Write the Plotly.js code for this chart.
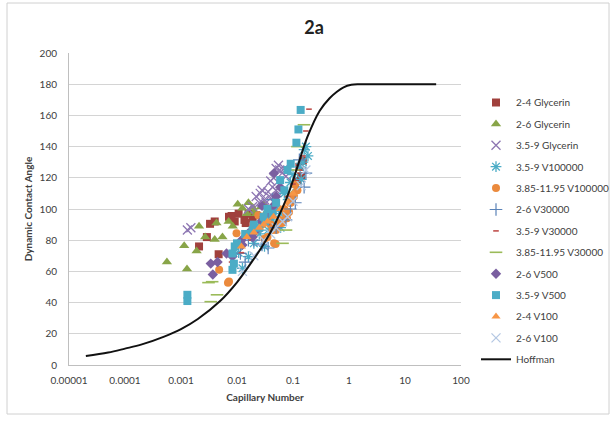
<!DOCTYPE html>
<html><head><meta charset="utf-8">
<script src="https://cdn.plot.ly/plotly-3.0.1.min.js"></script>
<style>html,body{margin:0;padding:0;background:#fff}#chart{width:615px;height:421px}</style>
</head><body><div id="chart"></div>
<script>
const seriesNames = ["2-4 Glycerin","2-6 Glycerin","3.5-9 Glycerin","3.5-9 V100000","3.85-11.95 V100000","2-6 V30000","3.5-9 V30000","3.85-11.95 V30000","2-6 V500","3.5-9 V500","2-4 V100","2-6 V100"];

const glyc24X = [0.0021,0.0029,0.0033,0.0040,0.0047,0.0080,0.0091,0.0107,0.0136,0.0161,0.019,0.022,0.0143,0.0072,0.12,0.13,0.14,0.15];
const glyc24Y = [76,82,90.5,92,71,95.5,92,97,93,97,94,96,91,95,118,127,121,131];
const glyc26X = [0.00056,0.00114,0.00128,0.0021,0.0019,0.0027,0.0040,0.0055,0.0043,0.0071,0.0103,0.0084,0.0125,0.016,0.019,0.022,0.015,0.027,0.1,0.03,0.035,0.02];
const glyc26Y = [66,76.5,61.5,89,73,82,80.5,82,91,92,103,89,100.5,104,101,97,97,101.5,110,103,99,98];
const glyc359X = [0.0013,0.0015,0.043,0.05,0.055,0.036,0.031,0.026,0.064,0.075,0.046,0.022,0.019,0.016,0.028,0.04,0.058,0.033,0.045,0.05,0.07,0.025,0.038];
const glyc359Y = [86.5,88,114,126,128,111,106,110,123,121,104,108,101.5,100,112,118,125,104,120,112,126,104,108];
const v100k359X = [0.158,0.185,0.134,0.14,0.114,0.082,0.059,0.043,0.036,0.031,0.016,0.0125,0.0107,0.06,0.17,0.05,0.07,0.09,0.1,0.15,0.025,0.02];
const v100k359Y = [138,134,127,119,114,106,97,93,86.5,76,69.5,62,72,88,140,100,110,117,122,130,84,78];
const v100k385X = [0.0069,0.0072,0.0048,0.031,0.046,0.049,0.035,0.043,0.059,0.075,0.089,0.104,0.11,0.036,0.05,0.064,0.078,0.024,0.019,0.0098,0.06,0.091,0.07,0.085,0.095,0.12,0.028,0.04];
const v100k385Y = [52.8,53.5,61,81,78,77.5,82,86.5,93,97,104,108,115.5,95,86.5,91,94,96,84,84.5,91,104,100,98,108,112,90,90];
const v30k26X = [0.0115,0.036,0.028,0.075,0.11,0.158,0.17,0.13,0.016,0.020,0.043,0.014,0.05,0.09];
const v30k26Y = [71.5,75,77,93,104,114,123,131.5,80,80,106,66,88,100];
const v30k359X = [0.193,0.17,0.15,0.13,0.1,0.08,0.06,0.045,0.035,0.025,0.018,0.012,0.008];
const v30k359Y = [164,150,134,125,116,108,100,95,90,86,80,72,66];
const v30k385X = [0.0031,0.0044,0.0034,0.0036,0.157,0.075,0.065,0.12,0.1];
const v30k385Y = [52.8,45,40.6,53.4,154,86.5,78,140,125];
const v500_26X = [0.0034,0.0037,0.0125,0.016,0.019,0.022,0.031,0.036,0.043,0.059,0.046,0.0083,0.0065,0.0045,0.027,0.028,0.05,0.012];
const v500_26Y = [65,58,77,84.5,82,86.5,95,97,101.5,114,123,69.5,71.5,66,92,102,108,80];
const v500_359X = [0.0013,0.0013,0.0083,0.0091,0.0088,0.019,0.043,0.059,0.091,0.115,0.125,0.137,0.0083,0.01,0.025,0.032,0.02,0.03,0.05,0.07,0.08,0.014,0.035];
const v500_359Y = [45,41,71.5,76,65,86.5,97,118.5,129,142.5,151,163.5,61,78,88,92,90,95,104,112,125,84,100];
const v100_24X = [0.012,0.02,0.03,0.045,0.06,0.08,0.1,0.025,0.035,0.015];
const v100_24Y = [76,85,90,95,100,104,110,88,92,82];
const v100_26X = [0.0125,0.02,0.03,0.05,0.08,0.1,0.14,0.17,0.04,0.065];
const v100_26Y = [60,70,80,88,95,105,115,125,84,92];

const hoffmanX = [0.00002,0.00005,0.0001,0.0002,0.0005,0.001,0.002,0.005,0.01,0.02,0.03,0.05,0.08,0.12,0.18,0.3,0.45,0.6,0.8,1.1,1.5,2.5,10,36];
const hoffmanY = [5.8,8,10.5,13.2,18.2,23,29.5,41,53,68,77.5,92,108.5,127,146,163,171,175,178,179.6,180,180,180,180];

const xTickVals = [0.00001,0.0001,0.001,0.01,0.1,1,10,100];
const xTickText = ["0.00001","0.0001","0.001","0.01","0.1","1","10","100"];

const FONT = "Lato, 'Liberation Sans', sans-serif";
function sc(i, xs, ys, symbol, color, size, lw) {
  const open = symbol.indexOf('open') >= 0;
  const m = {symbol: symbol, size: size, color: color};
  if (open) m.line = {color: color, width: lw || 1.3};
  else m.line = {width: 0};
  return {type:'scatter', mode:'markers', name: seriesNames[i], legendgroup: 'g'+i,
          x: xs, y: ys, marker: m, hoverinfo: 'x+y'};
}
const traces = [
  sc(0, glyc24X, glyc24Y, 'square', '#A0403C', 8),
  sc(1, glyc26X, glyc26Y, 'triangle-up', '#88A548', 9),
  sc(2, glyc359X, glyc359Y, 'x-thin-open', '#8D76B2', 9, 1.3),
  sc(3, v100k359X, v100k359Y, 'asterisk-open', '#4BACC6', 9, 1.3),
  sc(4, v100k385X, v100k385Y, 'circle', '#EB8A3D', 8),
  sc(5, v30k26X, v30k26Y, 'cross-thin-open', '#5B83B8', 9, 1.2),
  sc(6, v30k359X, v30k359Y, 'line-ew-open', '#C0504D', 4, 1.6),
  sc(7, v30k385X, v30k385Y, 'line-ew-open', '#9BBB59', 9, 1.6),
  sc(8, v500_26X, v500_26Y, 'diamond', '#7A5FA0', 8),
  sc(9, v500_359X, v500_359Y, 'square', '#4BACC6', 8),
  sc(10, v100_24X, v100_24Y, 'triangle-up', '#F79646', 8),
  sc(11, v100_26X, v100_26Y, 'x-thin-open', '#B4C7E2', 9, 1.3),
  {type:'scatter', mode:'lines', name:'Hoffman', legendgroup:'g12', x: hoffmanX, y: hoffmanY,
   line:{color:'#111', width:2, shape:'spline', smoothing:1}}
];

const L = 69, R = 461, T = 53, B = 365;
const pw = R - L, ph = B - T;
const px = v => (v - L) / pw, py = v => (B - v) / ph;

const layout = {
  width: 615, height: 421,
  margin: {l: L, r: 615 - R, t: T, b: 421 - B, pad: 0},
  paper_bgcolor: '#fff', plot_bgcolor: '#fff',
  font: {family: FONT, size: 10, color: '#404040'},
  title: {text: '<b>2a</b>', font: {family: FONT, size: 18, color: '#222'},
          xref: 'container', yref: 'container', x: 314/615, xanchor: 'center', y: 1 - 28/421, yanchor: 'middle'},
  showlegend: true,
  legend: {xref: 'container', yref: 'container', x: 476/615, y: 1 - 88/421, xanchor: 'left', yanchor: 'top',
           traceorder: 'grouped', tracegroupgap: 2.4, itemwidth: 30, maxheight: 1,
           font: {family: FONT, size: 10, color: '#404040'}, bgcolor: 'rgba(0,0,0,0)'},
  xaxis: {type: 'log', range: [-5, 2], tickvals: xTickVals, ticktext: xTickText, automargin: false,
          showgrid: false, zeroline: false, showline: true, linecolor: '#bfbfbf', linewidth: 1,
          ticks: '', ticklabelstandoff: 6, tickfont: {family: FONT, size: 10, color: '#404040'},
          title: {text: '<b>Capillary Number</b>', font: {family: FONT, size: 10, color: '#404040'}, standoff: 8}},
  yaxis: {range: [0, 200], dtick: 20, tick0: 0, showgrid: true, gridcolor: '#d4d4d4', gridwidth: 1, automargin: false,
          zeroline: false, showline: true, linecolor: '#bfbfbf', linewidth: 1,
          ticks: '', ticklabelstandoff: 9, tickfont: {family: FONT, size: 10, color: '#404040'},
          title: {text: '<b>Dynamic Contact Angle</b>', font: {family: FONT, size: 10, color: '#404040'}, standoff: 5}},
  shapes: [{type: 'rect', xref: 'paper', yref: 'paper', x0: px(7), x1: px(609), y0: py(414), y1: py(3),
            line: {color: '#d0d0d0', width: 1}, fillcolor: 'rgba(0,0,0,0)', layer: 'below'}]
};

Plotly.newPlot('chart', traces, layout, {displayModeBar: false, staticPlot: true});
</script></body></html>
